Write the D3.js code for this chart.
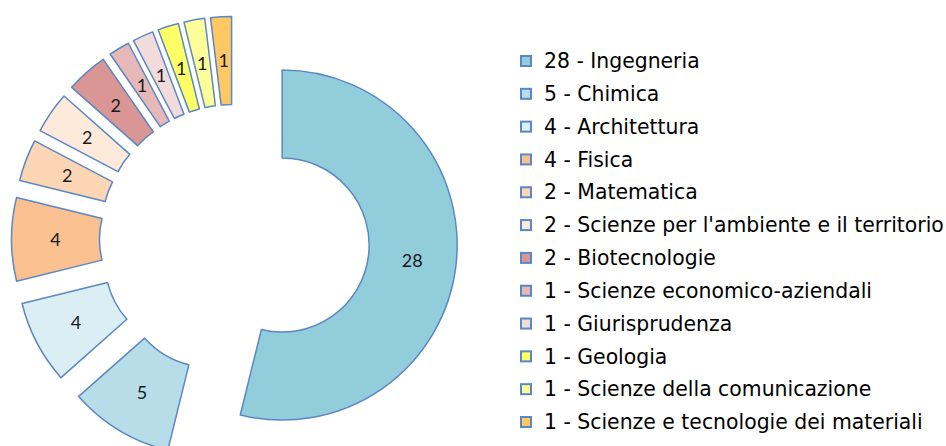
<!DOCTYPE html>
<html>
<head>
<meta charset="utf-8">
<script src="https://cdn.jsdelivr.net/npm/d3@7"></script>
<style>
  body { margin: 0; background: #fff; }
</style>
</head>
<body>
<div id="viz"></div>
<script>
var categories = ["Ingegneria", "Chimica", "Architettura", "Fisica", "Matematica",
    "Scienze per l'ambiente e il territorio", "Biotecnologie", "Scienze economico-aziendali",
    "Giurisprudenza", "Geologia", "Scienze della comunicazione", "Scienze e tecnologie dei materiali"];
var values = [28, 5, 4, 4, 2, 2, 2, 1, 1, 1, 1, 1];
var colors = ["#92cddc", "#b7dee8", "#daeef3", "#fac090", "#fcd5b5", "#fdeada",
    "#d99694", "#e6b9b8", "#f2dcdb", "#ffff66", "#ffff99", "#ffc863"];

var width = 946,
    height = 446;

var cx = 234.5, cy = 239.3,
    innerR = 87, outerR = 175,
    explode = 48;

var svg = d3.select("#viz")
  .append("svg")
    .attr("width", width)
    .attr("height", height);

var data = values.map(function(v, i) {
    return {name: categories[i], value: v, color: colors[i]};
});

var pie = d3.pie()
    .sort(null)
    .value(function(d) { return d.value; });

var arc = d3.arc()
    .innerRadius(innerR)
    .outerRadius(outerR);

var g = svg.append("g")
    .attr("transform", "translate(" + cx + "," + cy + ")");

var slices = g.selectAll("g.slice")
    .data(pie(data))
  .enter().append("g")
    .attr("class", "slice")
    .attr("transform", function(d) {
        var mid = (d.startAngle + d.endAngle) / 2;
        return "translate(" + (Math.sin(mid) * explode) + "," + (-Math.cos(mid) * explode) + ")";
    });

slices.append("path")
    .attr("d", arc)
    .style("fill", function(d) { return d.data.color; })
    .style("stroke", "#5b87c5")
    .style("stroke-width", "1.5px")
    .style("stroke-linejoin", "round");

slices.append("text")
    .attr("transform", function(d) { return "translate(" + arc.centroid(d) + ")"; })
    .attr("text-anchor", "middle")
    .attr("dy", "0.35em")
    .style("font-family", "Lato, 'Open Sans', sans-serif")
    .style("font-size", "18px")
    .style("fill", "#1a1a1a")
    .text(function(d) { return d.data.value; });

// legend
var legend = svg.append("g")
    .attr("transform", "translate(520,0)");

var rowY = d3.scalePoint()
    .domain(categories)
    .range([61, 422]);

var item = legend.selectAll("g.item")
    .data(data)
  .enter().append("g")
    .attr("class", "item")
    .attr("transform", function(d) { return "translate(0," + rowY(d.name) + ")"; });

item.append("rect")
    .attr("x", 1)
    .attr("y", -5)
    .attr("width", 10)
    .attr("height", 10)
    .style("fill", function(d) { return d.color; })
    .style("stroke", "#5b87c5")
    .style("stroke-width", "2px");

item.append("text")
    .attr("x", 24)
    .attr("dy", "0.35em")
    .style("font-family", "'DejaVu Sans', Verdana, sans-serif")
    .style("font-size", "20.4px")
    .style("fill", "#000")
    .text(function(d) { return d.value + " - " + d.name; });
</script>
</body>
</html>
